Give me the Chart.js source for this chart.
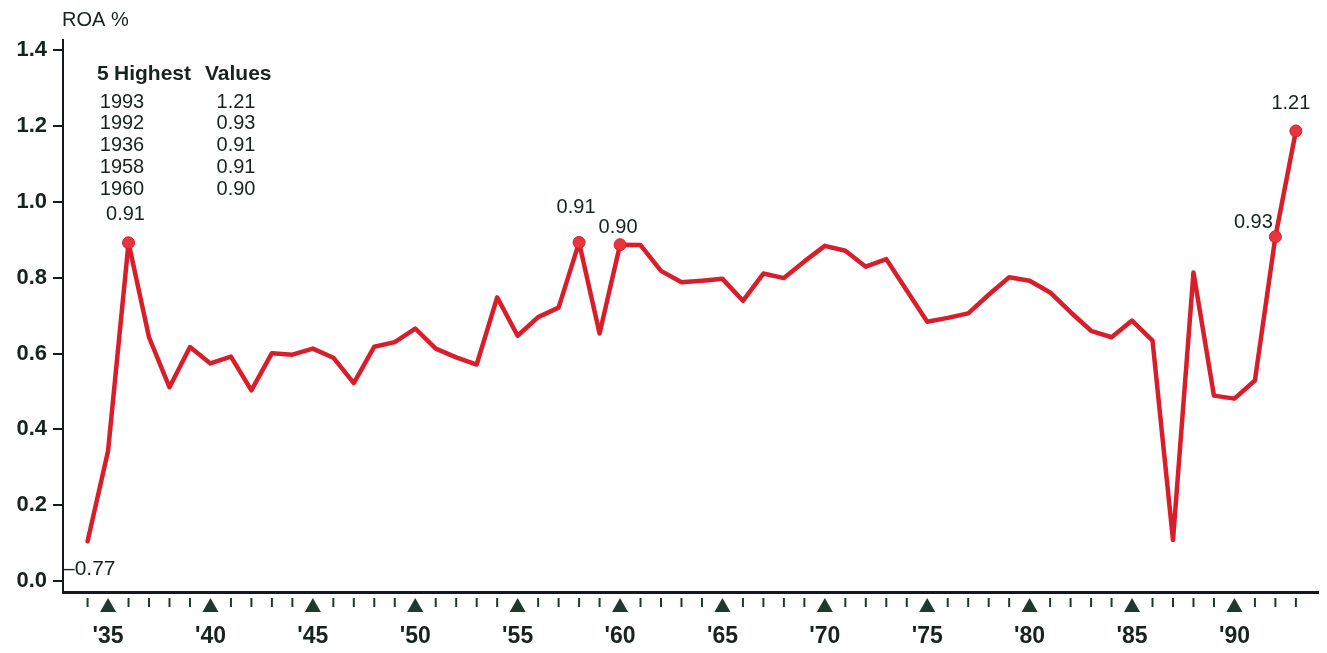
<!DOCTYPE html>
<html>
<head>
<meta charset="utf-8">
<script src="https://cdn.jsdelivr.net/npm/chart.js@4.4.1/dist/chart.umd.min.js"></script>
<style>
    html, body { margin: 0; padding: 0; background: #fff; }
    #wrap { width: 1327px; height: 653px; }
</style>
</head>
<body>
<div id="wrap"><canvas id="roaChart" width="1327" height="653"></canvas></div>
<script>
// Return on assets by year
const years = [
    1934, 1935, 1936, 1937, 1938, 1939, 1940, 1941, 1942, 1943,
    1944, 1945, 1946, 1947, 1948, 1949, 1950, 1951, 1952, 1953,
    1954, 1955, 1956, 1957, 1958, 1959, 1960, 1961, 1962, 1963,
    1964, 1965, 1966, 1967, 1968, 1969, 1970, 1971, 1972, 1973,
    1974, 1975, 1976, 1977, 1978, 1979, 1980, 1981, 1982, 1983,
    1984, 1985, 1986, 1987, 1988, 1989, 1990, 1991, 1992, 1993
];
const roa = [
    0.105, 0.343, 0.892, 0.643, 0.511, 0.617, 0.574, 0.592, 0.503, 0.601,
    0.597, 0.613, 0.589, 0.522, 0.618, 0.630, 0.666, 0.613, 0.590, 0.571,
    0.748, 0.647, 0.696, 0.721, 0.893, 0.653, 0.887, 0.886, 0.818, 0.788,
    0.792, 0.797, 0.739, 0.811, 0.799, 0.843, 0.884, 0.871, 0.829, 0.849,
    0.766, 0.684, 0.694, 0.706, 0.755, 0.801, 0.792, 0.761, 0.709, 0.660,
    0.643, 0.687, 0.634, 0.108, 0.814, 0.489, 0.481, 0.529, 0.908, 1.187
];

// 5 highest values table
const topYears = [1993, 1992, 1936, 1958, 1960];
const topValues = ['1.21', '0.93', '0.91', '0.91', '0.90'];

const yTicks = [0, 0.2, 0.4, 0.6, 0.8, 1.0, 1.2, 1.4];
const minNote = '\u20130.77';

const INK = '#17231f';
const RED = '#d81d2b';
const FONT = "'Liberation Sans', Arial, sans-serif";

// label offsets (px) from each highlighted point
const labelOffsets = {
    1936: [-3, -28],
    1958: [-3, -35],
    1960: [-2, -17],
    1992: [-22, -14],
    1993: [-5, -28]
};

const decorations = {
    id: 'decorations',
    afterDraw(chart) {
        const ctx = chart.ctx;
        const xs = chart.scales.x;
        const area = chart.chartArea;
        ctx.save();

        // small ticks and triangles under the x axis
        years.forEach(yr => {
            const px = xs.getPixelForValue(yr);
            ctx.fillStyle = '#1f3a2c';
            if (yr % 5 === 0) {
                ctx.beginPath();
                ctx.moveTo(px, area.bottom + 6);
                ctx.lineTo(px + 8, area.bottom + 20);
                ctx.lineTo(px - 8, area.bottom + 20);
                ctx.closePath();
                ctx.fill();
            } else {
                ctx.fillRect(px - 1, area.bottom + 6, 2, 9);
            }
        });

        // axis title
        ctx.fillStyle = INK;
        ctx.textBaseline = 'middle';
        ctx.textAlign = 'left';
        ctx.font = '20px ' + FONT;
        ctx.fillText('ROA %', 62, 20);

        // min note near the bottom of the y axis
        ctx.font = '21px ' + FONT;
        ctx.fillText(minNote, 63, 569);

        // highest values table
        ctx.font = 'bold 21px ' + FONT;
        ctx.fillText('5', 97, 74);
        ctx.fillText('Highest', 114, 74);
        ctx.fillText('Values', 205, 74);
        ctx.font = '20px ' + FONT;
        ctx.textAlign = 'center';
        topYears.forEach((yr, i) => {
            const rowY = 102 + i * 21.9;
            ctx.fillText(String(yr), 122, rowY);
            ctx.fillText(topValues[i], 236, rowY);
        });

        // point labels
        const meta = chart.getDatasetMeta(0);
        ctx.font = '20px ' + FONT;
        topYears.forEach((yr, i) => {
            const idx = years.indexOf(yr);
            const pt = meta.data[idx];
            const off = labelOffsets[yr];
            ctx.fillText(topValues[i], pt.x + off[0], pt.y + off[1]);
        });

        ctx.restore();
    }
};

const ctx = document.getElementById('roaChart').getContext('2d');
new Chart(ctx, {
    type: 'line',
    data: {
        datasets: [{
            data: years.map((yr, i) => ({ x: yr, y: roa[i] })),
            borderColor: RED,
            borderWidth: 4.5,
            borderJoinStyle: 'round',
            borderCapStyle: 'round',
            tension: 0,
            pointRadius: years.map(yr => topYears.includes(yr) ? 6 : 0),
            pointBackgroundColor: '#e8343c',
            pointBorderColor: RED,
            pointBorderWidth: 1
        }]
    },
    options: {
        responsive: false,
        animation: false,
        layout: { padding: { left: 0, right: 7, top: 40, bottom: 0 } },
        plugins: {
            legend: { display: false },
            tooltip: { enabled: false }
        },
        scales: {
            x: {
                type: 'linear',
                min: 1932.8,
                max: 1994.1,
                afterBuildTicks: scale => {
                    scale.ticks = years.map(v => ({ value: v }));
                },
                afterFit: scale => { scale.height = 61; },
                grid: { display: false, drawTicks: false },
                border: { display: true, color: '#15181f', width: 3 },
                ticks: {
                    autoSkip: false,
                    maxRotation: 0,
                    padding: 31,
                    color: INK,
                    font: { family: FONT, size: 23, weight: 'bold' },
                    callback: v => v % 5 === 0 ? "'" + String(v).slice(2) : ''
                }
            },
            y: {
                min: -0.029,
                max: 1.427,
                afterBuildTicks: scale => {
                    scale.ticks = yTicks.map(v => ({ value: v }));
                },
                afterFit: scale => { scale.width = 63; },
                grid: { drawOnChartArea: false, drawTicks: true, tickLength: 10, color: '#15181f', lineWidth: 2 },
                border: { display: true, color: '#15181f', width: 2 },
                ticks: {
                    padding: 6,
                    color: INK,
                    font: { family: FONT, size: 22, weight: 'bold' },
                    callback: v => v.toFixed(1)
                }
            }
        }
    },
    plugins: [decorations]
});
</script>
</body>
</html>
